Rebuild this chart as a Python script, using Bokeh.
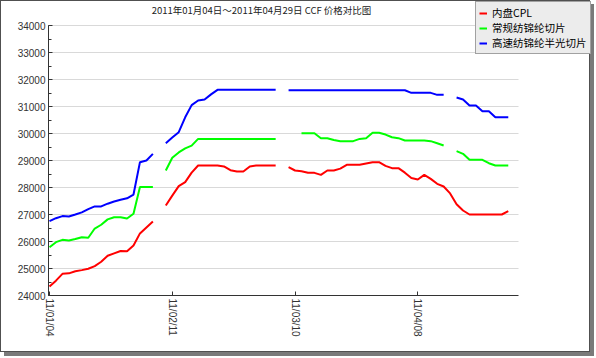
import numpy as np
from bokeh.plotting import figure
from bokeh.models import (Range1d, Legend, LegendItem, Label, FixedTicker,
                          SingleIntervalTicker, ColumnDataSource)
from bokeh.embed import file_html
from bokeh.resources import INLINE

title_text = "2011年01月04日～2011年04月29日 CCF 价格对比图"
series_names = ["内盘CPL", "常规纺锦纶切片", "高速纺锦纶半光切片"]
series_colors = ["#ff0000", "#00ff00", "#0000ff"]
tick_positions = [0, 19, 38, 57]
tick_labels = ["11/01/04", "11/02/11", "11/03/10", "11/04/08"]

# 内盘CPL
cpl = [24333, 24550, 24802, 24820, 24900, 24940, 24990, 25090, 25250, 25470,
       25560, 25650, 25640, 25850, 26300, 26520, 26741, None,
       27333, 27700, 28050, 28200, 28550, 28815, 28815, 28815, 28815, 28780,
       28640, 28593, 28593, 28780, 28815, 28815, 28815, 28815, None,
       28753, 28630, 28600, 28543, 28543, 28469, 28630, 28630, 28700, 28840,
       28840, 28840, 28890, 28938, 28938, 28800, 28716, 28716, 28550, 28350,
       28296, 28469, 28321, 28136, 28037, 27780, 27380, 27148, 27000, 27000,
       27000, 27000, 27000, 27000, 27123]
# 常规纺锦纶切片
regular = [25790, 25975, 26062, 26040, 26090, 26160, 26140, 26480, 26620, 26820,
           26900, 26900, 26850, 27030, 28020, 28020, 28020, None,
           28630, 29099, 29300, 29450, 29550, 29800, 29800, 29800, 29800, 29800,
           29800, 29800, 29800, 29800, 29800, 29800, 29800, 29800, None,
           None, None, 30012, 30012, 30012, 29827, 29827, 29760, 29716, 29716,
           29716, 29800, 29827, 30025, 30025, 29960, 29860, 29827, 29740, 29740,
           29740, 29740, 29716, 29640, 29556, None, 29346, 29247, 29025, 29025,
           29025, 28900, 28815, 28815, 28815]
# 高速纺锦纶半光切片
high_speed = [26753, 26864, 26940, 26926, 27000, 27080, 27200, 27300, 27300, 27400,
              27480, 27543, 27600, 27740, 28938, 29000, 29247, None,
              29642, 29850, 30050, 30600, 31050, 31222, 31260, 31450, 31617, 31617,
              31617, 31617, 31617, 31617, 31617, 31617, 31617, 31617, None,
              31600, 31600, 31600, 31600, 31600, 31600, 31600, 31600, 31600, 31600,
              31600, 31600, 31600, 31600, 31600, 31600, 31600, 31600, 31600, 31506,
              31506, 31506, 31506, 31432, 31432, None, 31333, 31260, 31037, 31037,
              30827, 30827, 30605, 30605, 30605]

y_min, y_max = 24000, 34000
x_min, x_max = -0.155, 72.55


def to_arr(v):
    return np.array([np.nan if a is None else a for a in v], dtype=float)


x = list(range(len(cpl)))

# frame spans the whole canvas so the legend and title are not clipped;
# axes and grid are bounded to the real plotting region
p = figure(width=590, height=352, output_backend="svg", toolbar_location=None,
           x_range=Range1d(x_min, 83.88), y_range=Range1d(y_min, 34889),
           min_border_left=47, min_border_right=0, min_border_top=0,
           min_border_bottom=58,
           styles={"border": "1px solid #505050", "box-shadow": "4px 4px 0 #7a7a7a"})
p.background_fill_color = "white"
p.border_fill_color = "white"
p.outline_line_color = None

yt = SingleIntervalTicker(interval=1000, num_minor_ticks=2)
p.yaxis.ticker = yt
p.ygrid.ticker = yt
p.ygrid.grid_line_color = "#d9d9d9"
p.ygrid.bounds = (y_min, y_max)
p.ygrid.cross_bounds = (x_min, x_max)
p.xgrid.visible = False
p.yaxis.bounds = (y_min, y_max)
p.xaxis.bounds = (x_min, x_max)

p.xaxis.ticker = FixedTicker(ticks=tick_positions)
p.xaxis.major_label_overrides = {t: l for t, l in zip(tick_positions, tick_labels)}
p.xaxis.major_label_orientation = "vertical"

for ax in (p.xaxis, p.yaxis):
    ax.axis_line_color = "#333333"
    ax.major_tick_line_color = "#333333"
    ax.minor_tick_line_color = "#333333"
    ax.major_tick_in = 4
    ax.major_tick_out = 0
    ax.minor_tick_in = 3
    ax.minor_tick_out = 0
    ax.major_label_text_font = "Liberation Sans"
    ax.major_label_text_font_size = "10px"
    ax.major_label_text_color = "#333333"
    ax.major_label_standoff = 3
p.xaxis.minor_tick_line_color = None

items = []
for name, col, vals in zip(series_names, series_colors, [cpl, regular, high_speed]):
    src = ColumnDataSource(dict(x=x, y=to_arr(vals)))
    r = p.line("x", "y", source=src, line_color=col, line_width=2)
    items.append(LegendItem(label=name, renderers=[r]))

legend = Legend(items=items, location=(427, 241), glyph_width=8, glyph_height=14,
                label_height=14, label_standoff=5, padding=3, spacing=0, margin=0,
                background_fill_color="#ececec", background_fill_alpha=1,
                border_line_color="#555555", border_line_width=1,
                label_text_font="Noto Sans CJK SC", label_text_font_size="10.5px",
                label_text_color="#000000")
p.add_layout(legend)

title = Label(x=213, y=286, x_units="screen", y_units="screen", text=title_text,
              text_align="center", text_baseline="middle",
              text_font="Noto Sans CJK SC", text_font_size="9.5px",
              text_color="#222222")
p.add_layout(title)

open("out.html", "w").write(file_html(p, INLINE))
